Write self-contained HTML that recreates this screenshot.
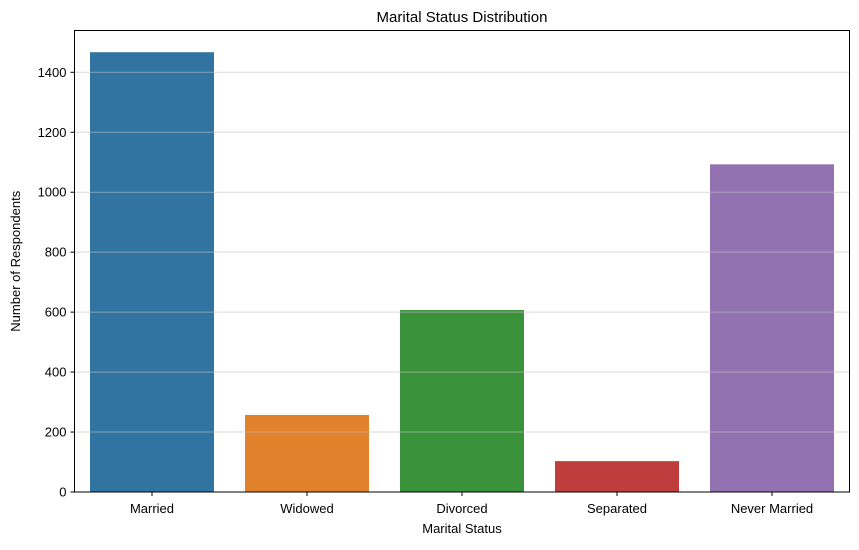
<!DOCTYPE html>
<html><head><meta charset="utf-8"><style>body{margin:0;background:#fff}svg{font-family:"Liberation Sans","DejaVu Sans",sans-serif}</style></head>
<body>
<svg id="chart" width="859" height="545"></svg>
<script>
const categories=["Married","Widowed","Divorced","Separated","Never Married"];
const counts=[1467,257,607,103,1093];
const colors=["#3274a1","#e1812c","#3a923a","#c03d3e","#9372b2"];
const yTicks=[0,200,400,600,800,1000,1200,1400];
const NS="http://www.w3.org/2000/svg";
const svg=document.getElementById('chart');
const L=74.5,R=849.5,T=30.5,B=492;
const y=v=>B-(v/1400)*(B-72.3);
const band=(R-L)/categories.length;
const x=i=>L+band*(i+0.5);
function mk(t,a,txt){const e=document.createElementNS(NS,t);for(const k in a)e.setAttribute(k,a[k]);if(txt!=null)e.textContent=txt;svg.appendChild(e);return e;}
categories.forEach((c,i)=>{
 const w=band*0.8;
 const r=mk('rect',{x:x(i)-w/2,y:y(counts[i]),width:w,height:B-y(counts[i]),fill:colors[i]});
 
 
 const t=mk('line',{x1:x(i),x2:x(i),y1:B,y2:B+4,stroke:'#000'});
 
 
 const l=mk('text',{x:x(i),y:B+21,'text-anchor':'middle','font-size':13},c);
 
 
});
yTicks.forEach(v=>{
 if(v>0){const g=mk('line',{x1:L,x2:R,y1:y(v),y2:y(v),stroke:'#bfbfbf','stroke-opacity':0.6,'stroke-width':1});
 
 }
 const t=mk('line',{x1:L-4,x2:L,y1:y(v),y2:y(v),stroke:'#000'});
 
 
 const l=mk('text',{x:L-8,y:y(v)+4.5,'text-anchor':'end','font-size':13},v);
 
 
});
const f=mk('rect',{x:L,y:T,width:R-L,height:B-T,fill:'none',stroke:'#000','stroke-width':1});


const ti=mk('text',{x:(L+R)/2,y:22,'text-anchor':'middle','font-size':15},'Marital Status Distribution');


const xt=mk('text',{x:(L+R)/2,y:533,'text-anchor':'middle','font-size':13},'Marital Status');


const yt=mk('text',{x:20,y:(T+B)/2,'text-anchor':'middle','font-size':13,transform:'rotate(-90 20 '+((T+B)/2)+')'},'Number of Respondents');


</script>
</body></html>
